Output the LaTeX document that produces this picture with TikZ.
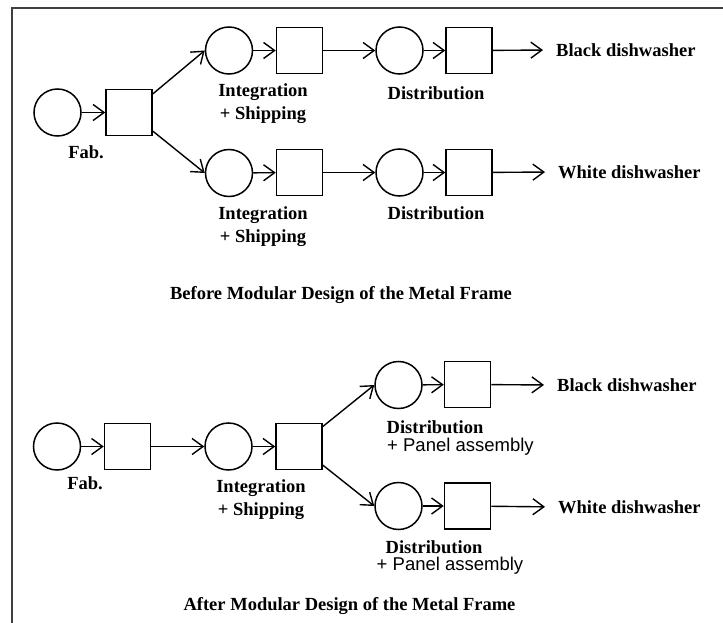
\documentclass[tikz,border=0pt]{standalone}
\usepackage{fontspec}
\setmainfont{Liberation Serif}
\newfontfamily\panelfont{Liberation Sans}
\usetikzlibrary{arrows.meta}
\begin{document}
\begin{tikzpicture}[x=1pt,y=-1pt,
  stage/.style={circle,draw,line width=1.5pt,minimum size=47pt,inner sep=0pt},
  buffer/.style={rectangle,draw,line width=1.5pt,minimum size=46pt,inner sep=0pt},
  flow/.style={line width=1.4pt,-{Straight Barb[length=11pt,width=16pt]}},
  tag/.style={font=\fontsize{18.5}{23}\selectfont\bfseries,align=center,inner sep=0pt},
  note/.style={font=\fontsize{18.5}{22}\selectfont\panelfont,inner sep=0pt},
  frame/.style={line width=2pt,draw=black!75}]
\useasboundingbox (0,0) rectangle (723,623);
\draw[frame] (12,623) coordinate (fb) -- (12,8) coordinate (fc) -- (723,8) coordinate (fr);

% ---- before: two separate chains after fabrication ----
\node[stage]  (f1c) at (57.5,112.5) {};
\node[buffer] (f1s) at (129,112.5) {};
\node[tag]    (f1t) at (86,152) {Fab.};

\node[stage]  (i1c) at (229,50.5) {};
\node[buffer] (i1s) at (299.5,50.5) {};
\node[tag]    (i1t) at (263,103.5) {Integration\\+ Shipping};
\node[stage]  (i2c) at (229,173) {};
\node[buffer] (i2s) at (299.5,172.5) {};
\node[tag]    (i2t) at (263,226.5) {Integration\\+ Shipping};

\node[stage]  (d1c) at (399.5,50.5) {};
\node[buffer] (d1s) at (469,50.5) {};
\node[tag]    (d1t) at (436,93) {Distribution};
\node[stage]  (d2c) at (399.5,172.5) {};
\node[buffer] (d2s) at (469,172.5) {};
\node[tag]    (d2t) at (436,213) {Distribution};

\node[tag,anchor=west] (o1) at (556,50) {Black dishwasher};
\node[tag,anchor=west] (o2) at (558,172) {White dishwasher};

\draw[flow] (f1c) -- (f1s);
\draw[flow] (f1s.38) -- (i1c.west);
\draw[flow] (f1s.-38) -- (i2c.west);
\draw[flow] (i1c) -- (i1s);
\draw[flow] (i2c) -- (i2s);
\draw[flow] (i1s) -- (d1c);
\draw[flow] (i2s) -- (d2c);
\draw[flow] (d1c) -- (d1s);
\draw[flow] (d2c) -- (d2s);
\draw[flow,shorten >=13pt] (d1s) -- (o1.west);
\draw[flow,shorten >=13pt] (d2s) -- (o2.west);

\node[tag,anchor=base] (cap1) at (341,299) {Before Modular Design of the Metal Frame};

% ---- after: one shared chain, split at distribution ----
\node[stage]  (f3c) at (57,446.5) {};
\node[buffer] (f3s) at (127.5,446.5) {};
\node[tag]    (f3t) at (85,483) {Fab.};

\node[stage]  (i3c) at (228.5,446.5) {};
\node[buffer] (i3s) at (299,446.5) {};
\node[tag]    (i3t) at (261,499.5) {Integration\\+ Shipping};

\node[stage]  (d3c) at (398.5,385) {};
\node[buffer] (d3s) at (467.5,384.5) {};
\node[tag]    (d3t) at (435,427) {Distribution};
\node[note,anchor=west] (d3p) at (387,447) {+ Panel assembly};
\node[stage]  (d4c) at (398.5,506) {};
\node[buffer] (d4s) at (467.5,506) {};
\node[tag]    (d4t) at (434,547) {Distribution};
\node[note]   (d4p) at (450,566) {+ Panel assembly};

\node[tag,anchor=west] (o3) at (557,385) {Black dishwasher};
\node[tag,anchor=west] (o4) at (558,507) {White dishwasher};

\draw[flow] (f3c) -- (f3s);
\draw[flow] (f3s) -- (i3c);
\draw[flow] (i3c) -- (i3s);
\draw[flow] (i3s.40) -- (d3c.west);
\draw[flow] (i3s.-38) -- (d4c.west);
\draw[flow] (d3c) -- (d3s);
\draw[flow] (d4c) -- (d4s);
\draw[flow,shorten >=13pt] (d3s) -- (o3.west);
\draw[flow,shorten >=13pt] (d4s) -- (o4.west);

\node[tag,anchor=base] (cap2) at (349.5,610) {After Modular Design of the Metal Frame};
\end{tikzpicture}
\end{document}
